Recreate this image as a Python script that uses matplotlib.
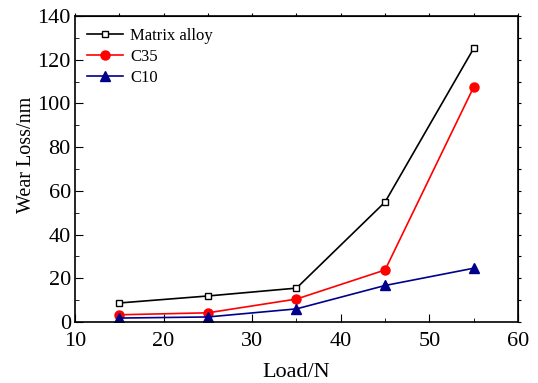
import matplotlib.pyplot as plt
from matplotlib.ticker import MultipleLocator

plt.rcParams['font.family'] = ['Liberation Serif', 'DejaVu Serif']

load = [15, 25, 35, 45, 55]
matrix_alloy = [8.7, 11.9, 15.5, 54.9, 125.2]
c35 = [3.3, 4.2, 10.5, 23.8, 107.5]
c10 = [1.8, 2.3, 6.0, 16.7, 24.6]

fig = plt.figure(figsize=(5.38, 3.83), dpi=100)
ax = fig.add_axes([0.1394, 0.1593, 0.8234, 0.7989])

ax.plot(load, matrix_alloy, color='black', marker='s', markersize=5,
        markerfacecolor='white', markeredgecolor='black', linewidth=1.2,
        label='Matrix alloy')
ax.plot(load, c35, color='red', marker='o', markersize=6.5,
        linewidth=1.2, label='C35')
ax.plot(load, c10, color='#00008B', marker='^', markersize=7,
        linewidth=1.2, label='C10')

ax.set_xlim(10, 60)
ax.set_ylim(0, 140)
ax.xaxis.set_major_locator(MultipleLocator(10))
ax.xaxis.set_minor_locator(MultipleLocator(5))
ax.yaxis.set_major_locator(MultipleLocator(20))
ax.yaxis.set_minor_locator(MultipleLocator(10))

# bottom/left ticks inward, top/right small outward
ax.tick_params(which='both', direction='in', labelsize=16)
ax.tick_params(axis='x', which='major', length=6, pad=7)
ax.tick_params(axis='y', which='major', length=6, pad=3)
ax.tick_params(which='minor', length=3)
top = ax.secondary_xaxis('top')
top.xaxis.set_major_locator(MultipleLocator(5))
top.tick_params(direction='out', length=2, labeltop=False)
right = ax.secondary_yaxis('right')
right.yaxis.set_major_locator(MultipleLocator(10))
right.tick_params(direction='out', length=2, labelright=False)
for s in ax.spines.values():
    s.set_linewidth(1.2)

ax.set_xlabel('Load/N', fontsize=16, labelpad=9)
ax.set_ylabel('Wear Loss/nm', fontsize=14.5)
ax.yaxis.set_label_coords(-0.088, 0.545)

ax.legend(loc='upper left', frameon=False, fontsize=12, handlelength=2.2,
          borderaxespad=0.3, labelspacing=0.3, handletextpad=0.4)

fig.savefig('out.png', dpi=100)
